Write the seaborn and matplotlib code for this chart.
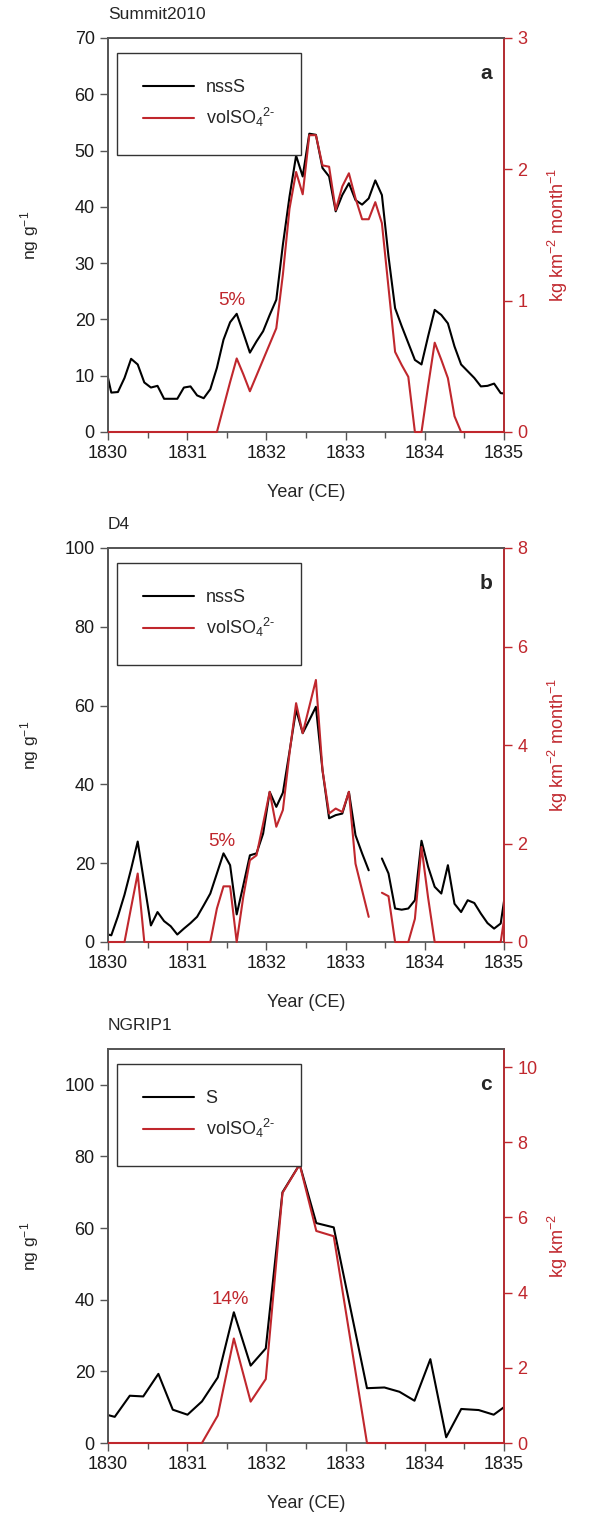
import numpy as np
import pandas as pd
import matplotlib
matplotlib.use("Agg")
import matplotlib.pyplot as plt
from matplotlib.lines import Line2D
from matplotlib.patches import Rectangle
from matplotlib.ticker import MultipleLocator
import seaborn as sns

#%% Datos

# Rejilla mensual (mitad de mes) con un punto extra a cada lado de 1830-1835
meses = 1830 + (np.arange(-1, 61) + 0.5) / 12

# Summit2010: nssS (ng/g) y volSO4 (kg km-2 month-1)
summit_nss = [12.2, 7.0, 7.1, 9.6, 13.0, 12.0, 8.8, 7.9, 8.2, 5.9, 5.9, 5.9,
              7.9, 8.1, 6.5, 6.0, 7.6, 11.4, 16.4, 19.5, 21.0, 17.6, 14.1, 16.1,
              17.9, 20.8, 23.5, 33.3, 41.8, 49.1, 45.4, 53.0, 52.8, 46.9, 45.4, 39.2,
              42.1, 44.2, 41.2, 40.4, 41.5, 44.7, 42.1, 31.2, 22.0, 18.8, 15.8, 12.8,
              12.0, 17.0, 21.7, 20.8, 19.3, 15.2, 12.0, 10.8, 9.6, 8.1, 8.2, 8.6,
              6.9, 6.8]
summit_vol = [0, 0, 0, 0, 0, 0, 0, 0, 0, 0, 0, 0,
              0, 0, 0, 0, 0, 0, 0.19, 0.38, 0.56, 0.44, 0.31, 0.43,
              0.55, 0.67, 0.79, 1.2, 1.7, 1.98, 1.81, 2.26, 2.26, 2.03, 2.02, 1.69,
              1.87, 1.97, 1.78, 1.62, 1.62, 1.75, 1.59, 1.1, 0.61, 0.51, 0.42, 0,
              0, 0.35, 0.68, 0.55, 0.41, 0.12, 0, 0, 0, 0, 0, 0,
              0, 0]

# D4 (hay un hueco sin datos en 1833.4)
d4_nss = [2.1, 1.7, 6.5, 12.0, 18.5, 25.5, 14.8, 4.2, 7.6, 5.3, 4.0, 1.9,
          3.4, 4.8, 6.4, 9.3, 12.3, 17.4, 22.5, 19.5, 7.0, 14.4, 22.0, 22.5,
          27.5, 38.1, 34.3, 37.9, 48.3, 59.0, 53.0, 56.3, 59.7, 43.6, 31.4, 32.2,
          32.6, 38.1, 27.1, 22.5, 18.2, np.nan, 21.2, 17.4, 8.5, 8.2, 8.5, 10.6,
          25.7, 19.1, 14.0, 12.3, 19.5, 9.7, 7.6, 10.6, 9.9, 7.2, 4.8, 3.4,
          4.7, 16.0]
d4_vol = [0, 0, 0, 0, 0.7, 1.39, 0, 0, 0, 0, 0, 0,
          0, 0, 0, 0, 0, 0.68, 1.13, 1.13, 0, 0.92, 1.66, 1.76,
          2.4, 3.05, 2.34, 2.68, 3.83, 4.85, 4.24, 4.78, 5.32, 3.49, 2.61, 2.71,
          2.64, 3.05, 1.59, 1.05, 0.51, np.nan, 1.0, 0.93, 0, 0, 0, 0.47,
          1.93, 0.9, 0, 0, 0, 0, 0, 0, 0, 0, 0, 0,
          0, 0.9]

# NGRIP1 (muestreo irregular)
ngrip_x = [1830.0, 1830.085, 1830.275, 1830.445, 1830.636, 1830.818, 1831.004,
           1831.186, 1831.386, 1831.589, 1831.801, 1831.992, 1832.203, 1832.42,
           1832.63, 1832.85, 1833.27, 1833.49, 1833.68, 1833.87, 1834.07, 1834.27,
           1834.46, 1834.68, 1834.87, 1835.0]
ngrip_s = [7.8, 7.3, 13.2, 13.0, 19.3, 9.3, 7.9, 11.6, 18.3, 36.5, 21.6, 26.4,
           70.0, 77.8, 61.4, 60.2, 15.3, 15.5, 14.3, 11.8, 23.4, 1.6, 9.5, 9.2,
           7.9, 10.0]
ngrip_vol = [0, 0, 0, 0, 0, 0, 0, 0, 0.73, 2.78, 1.10, 1.70,
             6.65, 7.41, 5.64, 5.50, 0, 0, 0, 0, 0, 0, 0, 0,
             0, 0]

#%% Estilo
ROJO = "#C0272D"
GRIS = "#555555"

sns.set_theme(style="ticks")
plt.rcParams["font.family"] = ["Liberation Sans", "DejaVu Sans"]
plt.rcParams["mathtext.fontset"] = "custom"
plt.rcParams["mathtext.rm"] = "Liberation Sans"
plt.rcParams["mathtext.it"] = "Liberation Sans:italic"
plt.rcParams["mathtext.bf"] = "Liberation Sans:bold"
plt.rcParams["mathtext.default"] = "regular"

fig = plt.figure(figsize=(5.92, 15.29), dpi=100)


def panel(pos, x, negro, rojo, nombre, letra, etiqueta, ylim1, yt1, ylim2, yt2,
          lab2, pct, pct_xy):
    ax = fig.add_axes(pos)
    ax2 = ax.twinx()

    df = pd.DataFrame({"x": x, "negro": negro, "rojo": rojo})
    df["seg"] = df["negro"].isna().cumsum()  # separa los tramos con hueco
    df = df.dropna()

    sns.lineplot(data=df, x="x", y="negro", units="seg", estimator=None,
                 color="black", lw=1.5, ax=ax, legend=False)
    sns.lineplot(data=df, x="x", y="rojo", units="seg", estimator=None,
                 color=ROJO, lw=1.5, ax=ax2, legend=False, zorder=3)
    # que la linea roja en cero se vea sobre el eje (recorte solo en x)
    caja = Rectangle((0, -0.02), 1, 1.04, transform=ax2.transAxes)
    for linea in ax2.lines:
        linea.set_clip_path(caja)

    ax.set_xlim(1830, 1835)
    ax.set_xticks(range(1830, 1836))
    ax.xaxis.set_minor_locator(MultipleLocator(0.5))
    ax.set_ylim(*ylim1)
    ax.set_yticks(yt1)
    ax2.set_ylim(*ylim2)
    ax2.set_yticks(yt2)

    ax.set_xlabel("Year (CE)", fontsize=13, labelpad=16)
    ax.set_ylabel("ng g$^{-1}$", fontsize=12.5)
    ax.yaxis.set_label_coords(-0.17, 0.5)
    ax2.set_ylabel(lab2, fontsize=13, color=ROJO)
    ax2.yaxis.set_label_coords(1.105, 0.5)

    ax.tick_params(axis="both", which="major", direction="out", length=6, width=1,
                   color=GRIS, labelsize=13, labelcolor="#1a1a1a")
    ax.tick_params(axis="x", which="minor", direction="out", length=4, width=1,
                   color=GRIS)
    ax2.tick_params(axis="y", direction="out", length=6, width=1, colors=ROJO,
                    labelsize=13)

    for s in ax.spines.values():
        s.set_color(GRIS)
    for lado, s in ax2.spines.items():
        s.set_color(ROJO if lado == "right" else GRIS)
    ax2.spines["bottom"].set_visible(False)

    ax.set_title(nombre, loc="left", fontsize=12.5, pad=14)
    ax.text(pct_xy[0], pct_xy[1], pct, color=ROJO, fontsize=13.5,
            ha="center", va="center")
    ax.text(0.97, 0.91, letra, transform=ax.transAxes, fontsize=15,
            fontweight="bold", ha="right", va="center")

    handles = [Line2D([], [], color="black", lw=1.5),
               Line2D([], [], color=ROJO, lw=1.5)]
    leg = ax2.legend(handles, [etiqueta, "volSO$_4$$^{2\\text{-}}$"], loc="upper left",
                     bbox_to_anchor=(0.023, 0.962), fancybox=False, framealpha=1,
                     edgecolor="#333333", fontsize=13, handlelength=2.8,
                     handletextpad=0.65, borderpad=1.45, labelspacing=0.55,
                     borderaxespad=0)
    leg.get_frame().set_linewidth(1.0)
    return ax


W, H = 592, 1529
izq, ancho, alto = 108 / W, 396 / W, 394 / H

panel([izq, 1 - 432 / H, ancho, alto], meses, summit_nss, summit_vol,
      "Summit2010", "a", "nssS", (0, 70), range(0, 71, 10), (0, 3), range(0, 4),
      "kg km$^{-2}$ month$^{-1}$", "5%", (1831.56, 23.3))

panel([izq, 1 - 942 / H, ancho, alto], meses, d4_nss, d4_vol,
      "D4", "b", "nssS", (0, 100), range(0, 101, 20), (0, 8), range(0, 9, 2),
      "kg km$^{-2}$ month$^{-1}$", "5%", (1831.44, 25.5))

panel([izq, 1 - 1443 / H, ancho, alto], ngrip_x, ngrip_s, ngrip_vol,
      "NGRIP1", "c", "S", (0, 110), range(0, 101, 20), (0, 10.48), range(0, 11, 2),
      "kg km$^{-2}$", "14%", (1831.55, 40.0))

fig.savefig("out.png", dpi=100)
